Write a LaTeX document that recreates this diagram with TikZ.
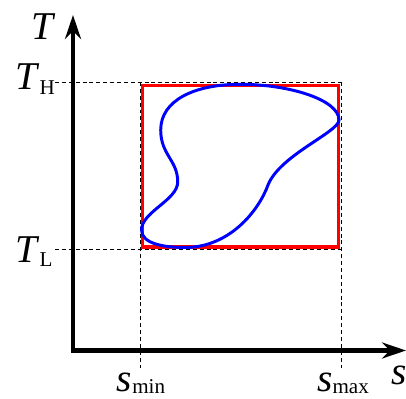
\documentclass[tikz,border=0pt]{standalone}
\usepackage{fontspec}
\setmainfont{Liberation Serif}
\usetikzlibrary{arrows.meta, positioning}
\newcommand{\lowsub}[3]{\textit{#1}\raisebox{#3}{\fontsize{15}{15}\selectfont #2}}
\tikzset{
  axis/.style={line width=3.5pt, {Stealth[length=0.6cm, width=0.4cm]}-{Stealth[length=0.6cm, width=0.4cm]}},
  guide/.style={line width=0.7pt, dash pattern=on 2.8pt off 2.1pt},
  bound/.style={draw=red, line width=2.5pt},
  loopline/.style={draw=blue, line width=2.1pt},
  lbl/.style={inner sep=0pt, font=\fontsize{28}{30}\selectfont},
}
\begin{document}
\begin{tikzpicture}[x=0.025cm, y=-0.025cm]
    \useasboundingbox (0,0) rectangle (406,399);
    % axes and guide points
    \coordinate (O) at (73,350.5);
    \coordinate (Ttip) at (73,15);
    \coordinate (stip) at (406,350.5);
    \coordinate (hi) at (55,82);
    \coordinate (lo) at (55,249);
    \coordinate (tl) at (140,82);  \coordinate (tr) at (341,82);
    \coordinate (bl) at (140,368); \coordinate (br) at (341,368);
    \coordinate (lr) at (341,249);
    \coordinate (rA) at (142.5,85.5); \coordinate (rB) at (338.5,247.2);

    \draw[guide] (hi) -- (tr);
    \draw[guide] (lo) -- (lr);
    \draw[guide] (tl) -- (bl);
    \draw[guide] (tr) -- (br);
    \draw[axis] (Ttip) -- (O) -- (stip);

    \draw[bound] (rA) rectangle (rB);
    % the cycle
    \coordinate (pL) at (141.5,230); \coordinate (pB) at (185,247.5);
    \coordinate (pM) at (268,185);   \coordinate (pR) at (339,120);
    \coordinate (pT) at (240,84.3);  \coordinate (pU) at (160.7,130);
    \coordinate (pV) at (177.7,182);
    \draw[loopline] (pL) .. controls (141.5,244) and (165,247.5) .. (pB)
      .. controls (230,247.5) and (259,210) .. (pM)
      .. controls (280,155) and (339,132) .. (pR)
      .. controls (339,100) and (290,84.3) .. (pT)
      .. controls (195,84.3) and (160.7,100) .. (pU)
      .. controls (160.7,155) and (177.7,160) .. (pV)
      .. controls (177.7,200) and (141.5,212) .. cycle;

    % labels
    \node[lbl] (Tlab) at (44,27) {\textit{T}};
    \node[lbl, anchor=base west] (TH) at (15,90) {\lowsub{T}{H}{-3.5pt}};
    \node[lbl, anchor=base west] (TL) at (15,262) {\lowsub{T}{L}{-3.5pt}};
    \node[lbl, anchor=base] (smin) at (141,391) {\lowsub{s}{min}{-1.5pt}};
    \node[lbl, anchor=base] (smax) at (343,391) {\lowsub{s}{max}{-1.5pt}};
    \node[lbl, anchor=base] (slab) at (399,384) {\textit{s}};
\end{tikzpicture}
\end{document}
